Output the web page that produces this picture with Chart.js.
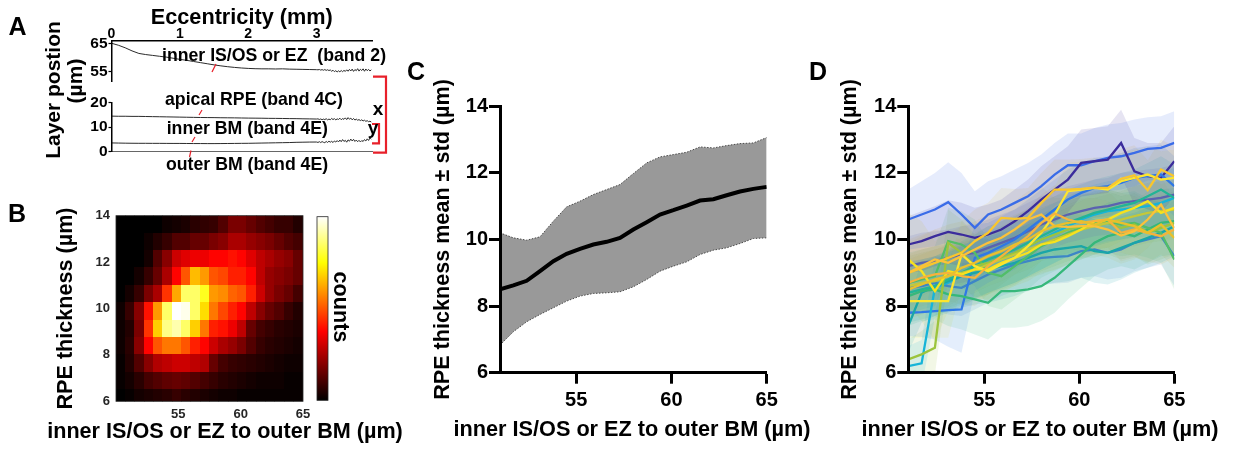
<!DOCTYPE html>
<html><head><meta charset="utf-8">
<script src="https://cdn.jsdelivr.net/npm/chart.js@4.4.1/dist/chart.umd.min.js"></script>
<style>
html,body{margin:0;padding:0;background:#fff;}
body{width:1233px;height:450px;position:relative;overflow:hidden;font-family:"Liberation Sans",Arial,sans-serif;}
.box{position:absolute;}
.box canvas{display:block;}
.txt{position:absolute;font-weight:bold;white-space:pre;color:#000;line-height:1;}
.rot{transform:translate(-50%,-50%) rotate(-90deg);}
.rotc{transform:translate(-50%,-50%) rotate(90deg);}
.ctr{transform:translateX(-50%);}
</style></head><body>
<div class="box" style="left:0;top:0;width:400px;height:92px"><canvas id="cA1" width="400" height="92"></canvas></div>
<div class="box" style="left:0;top:92px;width:400px;height:70px"><canvas id="cA2" width="400" height="70"></canvas></div>
<div class="box" style="left:0;top:195px;width:450px;height:255px"><canvas id="cB" width="450" height="255"></canvas></div>
<div class="box" style="left:400px;top:50px;width:400px;height:400px"><canvas id="cC" width="400" height="400"></canvas></div>
<div class="box" style="left:800px;top:50px;width:433px;height:400px"><canvas id="cD" width="433" height="400"></canvas></div>

<svg style="position:absolute;left:0;top:0" width="1233" height="450">
  <g stroke="#e8202a" fill="none">
    <line x1="212" y1="72" x2="216" y2="64" stroke-width="1.2"/>
    <line x1="199" y1="115" x2="202" y2="110" stroke-width="1.2"/>
    <line x1="192" y1="142" x2="195" y2="137" stroke-width="1.2"/>
    <line x1="191" y1="150.5" x2="189.5" y2="157" stroke-width="1.2"/>
    <polyline points="373,76.7 386,76.7 386,152.7 373,152.7" stroke-width="2.2"/>
    <polyline points="372,124 379,124 379,143.3 372,143.3" stroke-width="2.2"/>
  </g>
</svg>

<div class="txt" style="left:8.5px;top:13.8px;font-size:25px">A</div>
<div class="txt" style="left:8px;top:200.8px;font-size:25px">B</div>
<div class="txt" style="left:407px;top:58.8px;font-size:25px">C</div>
<div class="txt" style="left:809px;top:58.8px;font-size:25px">D</div>

<div class="txt rot" style="left:52px;top:90px;font-size:21px">Layer postion</div>
<div class="txt rot" style="left:73.5px;top:81px;font-size:21px">(µm)</div>
<div class="txt" style="left:162px;top:46.7px;font-size:17.7px">inner IS/OS or EZ  (band 2)</div>
<div class="txt" style="left:165px;top:91px;font-size:17.7px">apical RPE (band 4C)</div>
<div class="txt" style="left:166.7px;top:120px;font-size:17.7px">inner BM (band 4E)</div>
<div class="txt" style="left:166px;top:156px;font-size:17.7px">outer BM (band 4E)</div>
<div class="txt" style="left:372.7px;top:99px;font-size:19px">x</div>
<div class="txt" style="left:367.7px;top:117.8px;font-size:19px">y</div>

<div class="txt ctr" style="left:225px;top:419.7px;font-size:21.6px">inner IS/OS or EZ to outer BM (µm)</div>
<div class="txt rotc" style="left:340.5px;top:306.5px;font-size:21.6px">counts</div>
<div class="txt ctr" style="left:632px;top:417.6px;font-size:21.7px">inner IS/OS or EZ to outer BM (µm)</div>
<div class="txt ctr" style="left:1040px;top:417.6px;font-size:21.7px">inner IS/OS or EZ to outer BM (µm)</div>

<script>
// ---------------- DATA ----------------
// Panel A: layer positions vs eccentricity
const aEcc = [0,0.1,0.2,0.3,0.4,0.5,0.6,0.7,0.8,0.9,1.0,1.1,1.2,1.3,1.4,1.5,1.6,1.7,1.8,1.9,2.0,2.1,2.2,2.3,2.4,2.5,2.6,2.7,2.8,2.9,3.0,
  3.02,3.04,3.06,3.08,3.1,3.12,3.14,3.16,3.18,3.2,3.22,3.24,3.26,3.28,3.3,3.32,3.34,3.36,3.38,3.4,
  3.42,3.44,3.46,3.48,3.5,3.52,3.54,3.56,3.58,3.6,3.62,3.64,3.66,3.68,3.7,3.72,3.74,3.76,3.78,3.8];
const aBand2 = [65.0,64.3,63.4,62.3,61.4,61.0,60.7,60.4,60.1,59.7,59.3,58.95,58.55,58.15,57.75,57.35,57.0,56.7,56.45,56.25,56.1,56.0,55.95,55.95,55.9,55.95,55.85,55.8,55.75,55.7,55.65,
  55.6,55.72,55.5,55.68,55.45,55.7,55.4,55.62,55.35,55.55,
  55.1,55.45,54.95,55.3,54.85,55.25,54.9,55.35,54.95,55.4,
  55.05,55.6,55.1,55.75,55.2,55.85,55.05,55.7,55.3,56.0,55.15,55.8,55.35,55.95,55.1,55.9,55.3,55.75,55.2,55.6];
const aApicalRPE = [14.4,14.35,14.35,14.3,14.3,14.25,14.2,14.15,14.1,14.05,14.0,13.95,13.9,13.85,13.82,13.8,13.75,13.72,13.7,13.65,13.6,13.58,13.55,13.5,13.48,13.45,13.4,13.38,13.32,13.28,13.22,
  13.3,13.05,13.25,12.95,13.2,13.0,13.35,12.9,13.2,12.95,13.45,13.0,13.4,12.85,13.3,13.05,13.55,12.95,13.4,13.1,
  13.7,13.0,13.8,13.15,13.6,12.9,13.45,12.8,13.2,12.75,13.0,12.6,12.9,12.45,12.75,12.3,12.55,12.15,12.35,12.0];
const aInnerBM = [3.55,3.5,3.45,3.42,3.4,3.4,3.38,3.38,3.36,3.35,3.35,3.32,3.3,3.3,3.28,3.28,3.3,3.32,3.35,3.38,3.4,3.45,3.5,3.55,3.6,3.65,3.7,3.8,3.85,3.9,3.92,
  3.75,4.05,3.7,4.1,3.8,3.65,4.15,3.75,4.25,3.85,4.2,3.7,4.35,3.9,4.5,3.95,4.7,4.05,4.9,4.15,
  4.6,3.85,4.8,4.25,5.1,4.35,5.0,4.15,4.7,4.05,4.6,3.95,4.5,4.15,4.9,4.35,5.2,4.55,5.6,5.1];
const aEccTicks = [0,1,2,3];
const aUpperTicks = [55,65];
const aLowerTicks = [0,10,20];

// Panel B: 2D histogram (rows from top 14 down to 5.75)
const hmXEdges = [50,50.75,51.5,52.25,53,53.75,54.5,55.25,56,56.75,57.5,58.25,59,59.75,60.5,61.25,62,62.75,63.5,64.25,65];
const hmYEdges = [14,13.25,12.5,11.75,11,10.25,9.5,8.75,8,7.25,6.5,5.75];
const hmR01 = [0,0,0,0,0,2,3,4,6,7,8,12,18,18,15,12,10,8,8,5];
const hmR02 = [0,0,0,2,5,8,12,12,15,15,18,20,25,25,22,20,18,15,12,10];
const hmR03 = [0,0,0,3,12,20,30,33,35,35,38,38,40,38,33,28,25,22,20,15];
const hmR04 = [0,0,3,8,15,25,38,50,65,60,50,48,42,42,38,28,22,20,18,15];
const hmR05 = [0,3,8,18,25,45,62,85,85,78,60,58,52,50,42,30,22,18,15,10];
const hmR06 = [2,8,20,40,60,85,100,98,85,70,55,48,42,38,28,20,15,12,8,5];
const hmR07 = [2,5,18,45,68,88,92,85,68,55,42,40,35,28,15,10,8,6,5,4];
const hmR08 = [2,6,20,38,50,55,55,50,42,38,30,25,22,18,12,8,6,5,4,3];
const hmR09 = [1,5,12,20,26,28,30,30,28,26,15,10,8,7,6,5,4,3,2,2];
const hmR10 = [1,3,6,10,12,14,15,14,12,10,8,6,5,4,3,2,2,2,1,1];
const hmR11 = [0,1,3,4,5,6,8,6,5,4,3,2,2,1,1,1,1,1,1,1];
const bXTicks = [55,60,65];
const bYTicks = [6,8,10,12,14];

// Panel C: mean ± std
const cX = [51,51.7,52.4,53.1,53.8,54.5,55.2,55.9,56.6,57.3,58,58.7,59.4,60.1,60.8,61.5,62.2,62.9,63.6,64.3,65];
const cMean  = [8.5,8.62,8.76,9.05,9.35,9.57,9.72,9.85,9.93,10.05,10.3,10.52,10.75,10.88,11.02,11.17,11.21,11.33,11.44,11.52,11.58];
const cUpper = [10.2,10.05,9.98,10.08,10.55,10.98,11.15,11.35,11.5,11.65,11.98,12.3,12.48,12.55,12.62,12.78,12.75,12.82,12.88,12.9,13.06];
const cLower = [6.83,7.23,7.53,7.75,7.95,8.15,8.3,8.38,8.4,8.43,8.58,8.8,9.05,9.2,9.33,9.55,9.68,9.75,9.88,10.03,10.05];
const cXTicks = [55,60,65];
const cYTicks = [6,8,10,12,14];

// Panel D: per-subject mean and std
const dX = [51,51.7,52.4,53.1,53.8,54.5,55.2,55.9,56.6,57.3,58,58.7,59.4,60.1,60.8,61.5,62.2,62.9,63.6,64.3,65];
const dS01 = [10.6,10.75,10.9,11.12,10.75,10.35,10.75,10.9,11.1,11.3,11.6,11.95,12.23,12.23,12.35,12.45,12.5,12.6,12.72,12.75,12.9];
const dS01sd = [0.9,1.0,1.1,1.2,1.25,1.1,1.0,1.0,1.0,1.0,0.95,0.95,0.95,0.95,1.0,1.0,1.0,1.0,0.95,0.95,0.95];
const dS02 = [9.85,9.95,10.1,10.23,10.15,10.05,10.15,10.3,10.55,10.85,11.2,11.5,11.8,12.3,12.35,12.4,12.9,12.05,11.9,11.85,12.35];
const dS02sd = [0.85,0.9,0.9,0.95,0.95,0.9,0.9,0.9,0.95,0.95,1.0,1.0,1.0,1.0,1.0,1.0,1.0,1.0,1.0,1.05,1.05];
const dS03 = [9.2,9.3,9.35,9.45,9.55,9.6,9.75,9.9,10.05,10.25,10.45,10.6,10.75,10.85,10.95,11.0,11.1,11.15,11.2,11.25,11.35];
const dS03sd = [0.9,0.9,0.9,0.85,0.85,0.85,0.85,0.85,0.85,0.85,0.85,0.85,0.85,0.85,0.85,0.85,0.9,0.9,0.9,0.9,0.9];
const dS04 = [8.55,8.6,8.7,8.6,8.55,8.75,8.95,9.1,9.25,9.35,9.45,9.48,9.5,9.65,9.7,9.6,9.7,9.9,10.0,10.1,9.5];
const dS04sd = [0.8,0.8,0.8,0.85,0.85,0.85,0.85,0.8,0.8,0.8,0.8,0.8,0.8,0.8,0.8,0.8,0.85,0.85,0.85,0.85,0.9];
const dS05 = [7.8,7.82,7.85,7.88,7.9,9.45,9.6,9.8,10.0,10.3,10.6,10.9,11.2,11.4,11.55,11.6,11.7,11.85,11.9,11.95,11.6];
const dS05sd = [0.7,0.75,0.85,1.1,1.3,1.0,0.9,0.9,0.9,0.9,0.9,0.9,0.9,0.9,0.9,0.9,0.9,0.9,0.9,0.9,0.9];
const dS06 = [6.2,6.28,8.55,8.7,8.9,9.1,9.3,9.45,9.6,9.8,10.0,10.2,10.4,10.6,10.75,10.85,10.9,10.95,11.0,11.1,11.25];
const dS06sd = [0.6,0.7,0.9,0.9,0.9,0.9,0.9,0.9,0.9,0.9,0.9,0.9,0.9,0.9,0.9,0.9,0.9,0.9,0.9,0.9,0.9];
const dS07 = [7.4,8.4,8.6,8.75,8.9,9.0,9.1,9.2,9.3,9.45,9.6,9.7,9.75,9.8,9.65,9.6,9.75,9.9,10.05,10.2,10.4];
const dS07sd = [0.8,0.9,0.9,0.9,0.95,0.95,1.0,1.0,1.0,1.0,1.0,1.0,1.0,0.95,0.95,0.95,0.95,0.9,0.9,0.9,0.9];
const dS08 = [8.4,8.5,8.6,8.8,9.0,9.2,9.4,9.55,9.7,9.9,10.1,10.3,10.5,10.65,10.8,10.9,11.0,11.1,11.3,11.5,11.25];
const dS08sd = [0.9,0.9,0.9,0.9,0.95,0.95,1.0,1.0,1.0,1.0,1.0,1.0,1.0,1.0,1.0,1.0,1.0,1.0,1.0,1.0,1.0];
const dS09 = [8.3,8.45,8.5,8.35,8.3,8.2,8.1,8.45,8.45,8.5,8.6,8.85,9.2,9.55,9.9,10.1,10.2,10.1,10.3,10.5,10.55];
const dS09sd = [0.9,0.9,0.9,0.95,1.0,1.05,1.1,1.1,1.1,1.1,1.05,1.05,1.0,1.0,1.0,1.0,1.0,1.0,1.0,1.0,1.0];
const dS10 = [8.7,8.8,8.9,9.95,9.85,9.6,9.0,8.9,9.2,9.5,9.8,10.0,10.2,10.35,10.5,10.55,10.45,10.5,10.35,10.2,9.4];
const dS10sd = [0.9,0.9,0.9,1.0,1.0,1.0,1.0,1.0,1.0,1.0,0.95,0.95,0.95,0.95,0.95,0.95,0.95,0.95,0.9,0.9,0.9];
const dS11 = [6.4,6.55,6.75,9.9,9.6,9.2,9.3,9.45,9.6,9.8,10.0,10.15,10.3,10.4,10.4,10.5,10.35,10.45,10.2,10.35,10.5];
const dS11sd = [0.6,0.7,0.8,1.0,1.0,0.95,0.95,0.95,0.95,0.95,0.95,0.95,0.95,0.95,0.95,0.95,0.95,0.95,0.95,0.95,0.95];
const dS12 = [8.6,8.7,8.75,8.9,9.0,9.1,9.25,9.4,9.55,9.7,9.85,10.0,10.15,10.3,10.4,10.5,10.6,10.7,10.8,10.85,10.9];
const dS12sd = [0.9,0.9,0.95,0.95,0.9,0.9,0.9,0.85,0.85,0.85,0.9,0.9,0.9,0.9,0.85,0.85,0.85,0.9,0.9,0.9,0.9];
const dS13 = [9.4,9.05,8.45,9.05,8.95,9.1,9.1,9.3,9.45,9.6,9.85,9.93,10.1,10.3,10.55,10.6,10.8,10.95,11.15,10.8,10.95];
const dS13sd = [1.4,1.5,1.5,1.2,1.0,0.9,0.9,0.85,0.85,0.85,0.85,0.85,0.85,0.85,0.85,0.85,0.85,0.85,0.85,0.85,0.85];
const dS14 = [8.15,8.15,8.15,8.15,9.55,9.2,9.05,9.25,9.45,9.8,10.2,10.75,11.45,11.5,11.55,11.5,11.75,11.85,11.95,11.8,11.85];
const dS14sd = [1.1,1.1,1.1,1.1,1.0,0.9,0.9,0.85,0.85,0.85,0.85,0.85,0.85,0.85,0.85,0.85,0.85,0.85,0.85,0.85,0.85];
const dS15 = [9.0,9.15,9.3,9.45,9.6,9.95,10.2,10.65,10.62,10.65,11.1,11.5,11.5,11.52,11.56,11.55,11.82,11.93,11.48,12.1,11.9];
const dS15sd = [1.0,1.0,1.0,1.0,0.95,0.95,0.9,0.9,0.9,0.9,0.9,0.9,0.9,0.9,0.9,0.9,0.9,0.9,0.9,0.9,0.9];
const dS16 = [8.7,8.85,8.95,9.0,8.9,8.85,9.2,9.5,9.8,10.1,10.5,10.78,10.6,10.5,10.55,10.6,10.2,10.3,10.2,10.1,10.3];
const dS16sd = [0.85,0.85,0.85,0.85,0.85,0.85,0.85,0.85,0.85,0.85,0.85,0.85,0.85,0.85,0.85,0.85,0.85,0.85,0.85,0.85,0.85];
const dS17 = [9.0,9.2,9.4,9.3,9.5,9.7,9.9,10.05,10.3,10.6,10.75,10.4,10.38,10.4,10.4,10.3,10.12,10.25,10.6,11.05,10.33];
const dS17sd = [0.9,0.9,0.9,0.9,0.9,0.85,0.85,0.85,0.85,0.85,0.85,0.85,0.85,0.85,0.85,0.85,0.85,0.85,0.85,0.85,0.85];
const dS18 = [8.5,8.65,8.8,8.9,9.15,9.3,9.5,9.65,9.85,10.0,10.25,10.4,10.5,10.55,10.45,10.6,10.5,10.4,10.2,10.45,10.05];
const dS18sd = [0.9,0.9,0.9,0.9,0.9,0.9,0.9,0.9,0.9,0.9,0.9,0.9,0.9,0.9,0.9,0.9,0.9,0.9,0.9,0.9,0.9];
const dXTicks = [55,60,65];
const dYTicks = [6,8,10,12,14];

// ---------------- STYLE / BUILD ----------------
const FONT = '"Liberation Sans", Arial, sans-serif';
Chart.defaults.font.family = FONT;
Chart.defaults.font.weight = 'bold';
Chart.defaults.color = '#000';
Chart.defaults.animation = false;
Chart.defaults.plugins.legend.display = false;
Chart.defaults.plugins.tooltip.enabled = false;
Chart.defaults.elements.point.radius = 0;
Chart.defaults.elements.line.tension = 0;

const pts = (xs, ys) => xs.map((x, i) => ({x: x, y: ys[i]}));
const setTicks = vals => s => { s.ticks = vals.map(v => ({value: v})); };
const fixW = w => s => { s.width = w; };
const fixH = h => s => { s.height = h; };
const base = {responsive: false, devicePixelRatio: 1, animation: false};

// ---- Panel A upper
new Chart(document.getElementById('cA1'), {
  type: 'line',
  data: {datasets: [{data: pts(aEcc, aBand2), borderColor: '#2b2b2b', borderWidth: 1}]},
  options: Object.assign({}, base, {
    layout: {padding: {left: 0, right: 28, top: 0, bottom: 0.5}},
    scales: {
      x: {type: 'linear', position: 'top', min: 0, max: 3.81,
        afterBuildTicks: setTicks(aEccTicks), afterFit: fixH(40.7),
        ticks: {font: {size: 14, weight: 'bold'}, padding: -1.5, autoSkip: false, maxRotation: 0},
        grid: {display: false, drawTicks: false},
        border: {display: true, color: '#000', width: 1.5, z: 1},
        title: {display: true, text: 'Eccentricity (mm)', font: {size: 21.7, weight: 'bold'}, padding: {top: 5.5, bottom: 0}}},
      y: {type: 'linear', min: 51.4, max: 65.9,
        afterBuildTicks: setTicks(aUpperTicks), afterFit: fixW(111.5),
        ticks: {font: {size: 15.5, weight: 'bold'}, padding: 1, autoSkip: false},
        grid: {display: true, drawOnChartArea: false, drawTicks: true, tickLength: 3, tickWidth: 1.2, tickColor: '#000'},
        border: {display: true, color: '#000', width: 1.5, z: 1}}
    }
  })
});

// ---- Panel A lower
new Chart(document.getElementById('cA2'), {
  type: 'line',
  data: {datasets: [
    {data: pts(aEcc, aApicalRPE), borderColor: '#2b2b2b', borderWidth: 1},
    {data: pts(aEcc, aInnerBM), borderColor: '#2b2b2b', borderWidth: 1}
  ]},
  options: Object.assign({}, base, {
    layout: {padding: {left: 0, right: 28, top: 8.5, bottom: 0}},
    scales: {
      x: {type: 'linear', position: 'bottom', min: 0, max: 3.81, afterFit: fixH(9.5),
        ticks: {display: false}, grid: {display: false, drawTicks: false},
        border: {display: true, color: '#666', width: 1, z: 1}},
      y: {type: 'linear', min: 0, max: 20,
        afterBuildTicks: setTicks(aLowerTicks), afterFit: fixW(111.5),
        ticks: {font: {size: 15.5, weight: 'bold'}, padding: 1, autoSkip: false},
        grid: {display: true, drawOnChartArea: false, drawTicks: true, tickLength: 3, tickWidth: 1.2, tickColor: '#000'},
        border: {display: true, color: '#000', width: 1.5, z: 1}}
    }
  })
});

// ---- Panel B heatmap
function hot(t) {
  t = Math.max(0, Math.min(1, t));
  const r = Math.min(1, t / 0.375);
  const g = Math.max(0, Math.min(1, (t - 0.375) / 0.375));
  const b = Math.max(0, Math.min(1, (t - 0.75) / 0.25));
  return 'rgb(' + Math.round(r * 255) + ',' + Math.round(g * 255) + ',' + Math.round(b * 255) + ')';
}
const hmRows = [hmR01, hmR02, hmR03, hmR04, hmR05, hmR06, hmR07, hmR08, hmR09, hmR10, hmR11];
const hmMax = Math.max(...hmRows.map(r => Math.max(...r)));
const heatPlugin = {
  id: 'heat',
  beforeDatasetsDraw(chart) {
    const {ctx, chartArea: a, scales: {x, y}} = chart;
    ctx.save();
    ctx.beginPath(); ctx.rect(a.left, a.top, a.right - a.left, a.bottom - a.top); ctx.clip();
    hmRows.forEach((row, r) => row.forEach((v, c) => {
      const x0 = x.getPixelForValue(hmXEdges[c]), x1 = x.getPixelForValue(hmXEdges[c + 1]);
      const y0 = y.getPixelForValue(hmYEdges[r]), y1 = y.getPixelForValue(hmYEdges[r + 1]);
      ctx.fillStyle = hot(v / hmMax);
      ctx.fillRect(Math.floor(x0), Math.floor(y0), Math.ceil(x1) - Math.floor(x0), Math.ceil(y1) - Math.floor(y0));
    }));
    ctx.restore();
  },
  afterDraw(chart) {
    const {ctx, chartArea: a} = chart;
    ctx.save();
    ctx.strokeStyle = '#262626'; ctx.lineWidth = 0.8;
    ctx.strokeRect(a.left, a.top, a.right - a.left, a.bottom - a.top);
    // colorbar
    const L = a.right + 14, R = a.right + 25, T = a.top + 1, B = a.bottom - 1;
    const g = ctx.createLinearGradient(0, B, 0, T);
    for (let i = 0; i <= 40; i++) g.addColorStop(i / 40, hot(i / 40));
    ctx.fillStyle = g; ctx.fillRect(L, T, R - L, B - T);
    ctx.strokeRect(L, T, R - L, B - T);
    ctx.restore();
  }
};
new Chart(document.getElementById('cB'), {
  type: 'scatter',
  data: {datasets: []},
  plugins: [heatPlugin],
  options: Object.assign({}, base, {
    layout: {padding: {left: 0, right: 147, top: 20.7, bottom: 0}},
    scales: {
      x: {type: 'linear', min: 50, max: 65, afterBuildTicks: setTicks(bXTicks), afterFit: fixH(48.7),
        ticks: {font: {size: 13, weight: 'bold'}, color: '#262626', padding: 5, autoSkip: false, maxRotation: 0},
        grid: {display: false, drawTicks: false}, border: {display: false}},
      y: {type: 'linear', min: 6, max: 14, afterBuildTicks: setTicks(bYTicks), afterFit: fixW(116),
        ticks: {font: {size: 13, weight: 'bold'}, color: '#262626', padding: 6, autoSkip: false},
        grid: {display: false, drawTicks: false}, border: {display: false},
        title: {display: true, text: 'RPE thickness (µm)', font: {size: 21.6, weight: 'bold'}, padding: {top: 53.4, bottom: 0}}}
    }
  })
});

// ---- shared axes for C and D
function bigAxes(xTicks, yTicks, yW, xH, yTitle, yPad) {
  return {
    x: {type: 'linear', min: 51, max: 65, afterBuildTicks: setTicks(xTicks), afterFit: fixH(xH),
      ticks: {font: {size: 20, weight: 'bold'}, padding: 4.8, autoSkip: false, maxRotation: 0},
      grid: {display: true, drawOnChartArea: false, drawTicks: true, tickLength: 11, tickWidth: 3, tickColor: '#000'},
      border: {display: true, color: '#000', width: 3, z: 1}},
    y: {type: 'linear', min: 6, max: 14, afterBuildTicks: setTicks(yTicks), afterFit: fixW(yW),
      ticks: {font: {size: 20, weight: 'bold'}, padding: 1, autoSkip: false},
      grid: {display: true, drawOnChartArea: false, drawTicks: true, tickLength: 11, tickWidth: 3, tickColor: '#000'},
      border: {display: true, color: '#000', width: 3, z: 1},
      title: {display: true, text: yTitle, font: {size: 21.6, weight: 'bold'}, padding: {top: yPad, bottom: 0}}}
  };
}

// ---- Panel C
new Chart(document.getElementById('cC'), {
  type: 'line',
  data: {datasets: [
    {data: pts(cX, cMean), borderColor: '#000', borderWidth: 4, order: 0},
    {data: pts(cX, cUpper), borderColor: '#4a4a4a', borderWidth: 1, borderDash: [1.5, 1.5], backgroundColor: '#999999', fill: '+1', order: 5},
    {data: pts(cX, cLower), borderColor: '#4a4a4a', borderWidth: 1, borderDash: [1.5, 1.5], order: 5}
  ]},
  options: Object.assign({}, base, {
    plugins: {filler: {drawTime: 'beforeDatasetsDraw', propagate: false}},
    layout: {padding: {left: 0, right: 33.3, top: 56.3, bottom: 0}},
    scales: bigAxes(cXTicks, cYTicks, 100, 77.3, 'RPE thickness mean ± std (µm)', 30.3)
  })
});

// ---- Panel D
const dMeans = [dS01,dS02,dS03,dS04,dS05,dS06,dS07,dS08,dS09,dS10,dS11,dS12,dS13,dS14,dS15,dS16,dS17,dS18];
const dSds = [dS01sd,dS02sd,dS03sd,dS04sd,dS05sd,dS06sd,dS07sd,dS08sd,dS09sd,dS10sd,dS11sd,dS12sd,dS13sd,dS14sd,dS15sd,dS16sd,dS17sd,dS18sd];
const dColors = ['#3a6ce8','#3b2c9c','#5a62b0','#3d86c6','#2f78e6','#16b4d8','#1aa6a8','#22b496','#36b87a','#52be68','#9cc43c','#c4c83a','#f7e21c','#fde52e','#f9c62c','#f7b23c','#fbc13a','#e9c02c'];
function rgba(hex, a) {
  const n = parseInt(hex.slice(1), 16);
  return 'rgba(' + ((n >> 16) & 255) + ',' + ((n >> 8) & 255) + ',' + (n & 255) + ',' + a + ')';
}
const dSets = [];
dMeans.forEach((m, i) => {
  dSets.push({data: pts(dX, m), borderColor: dColors[i], borderWidth: 2.3, order: 100 - i});
});
dMeans.forEach((m, i) => {
  const sd = dSds[i];
  dSets.push({data: pts(dX, m.map((v, k) => v + sd[k])), borderWidth: 0, borderColor: 'rgba(0,0,0,0)', backgroundColor: rgba(dColors[i], 0.13), fill: '+1', order: 200});
  dSets.push({data: pts(dX, m.map((v, k) => v - sd[k])), borderWidth: 0, borderColor: 'rgba(0,0,0,0)', order: 200});
});
new Chart(document.getElementById('cD'), {
  type: 'line',
  data: {datasets: dSets},
  options: Object.assign({}, base, {
    plugins: {filler: {drawTime: 'beforeDatasetsDraw', propagate: false}},
    layout: {padding: {left: 0, right: 58.7, top: 56.3, bottom: 0}},
    scales: bigAxes(dXTicks, dYTicks, 108.3, 77.3, 'RPE thickness mean ± std (µm)', 37)
  })
});
</script>
</body></html>
